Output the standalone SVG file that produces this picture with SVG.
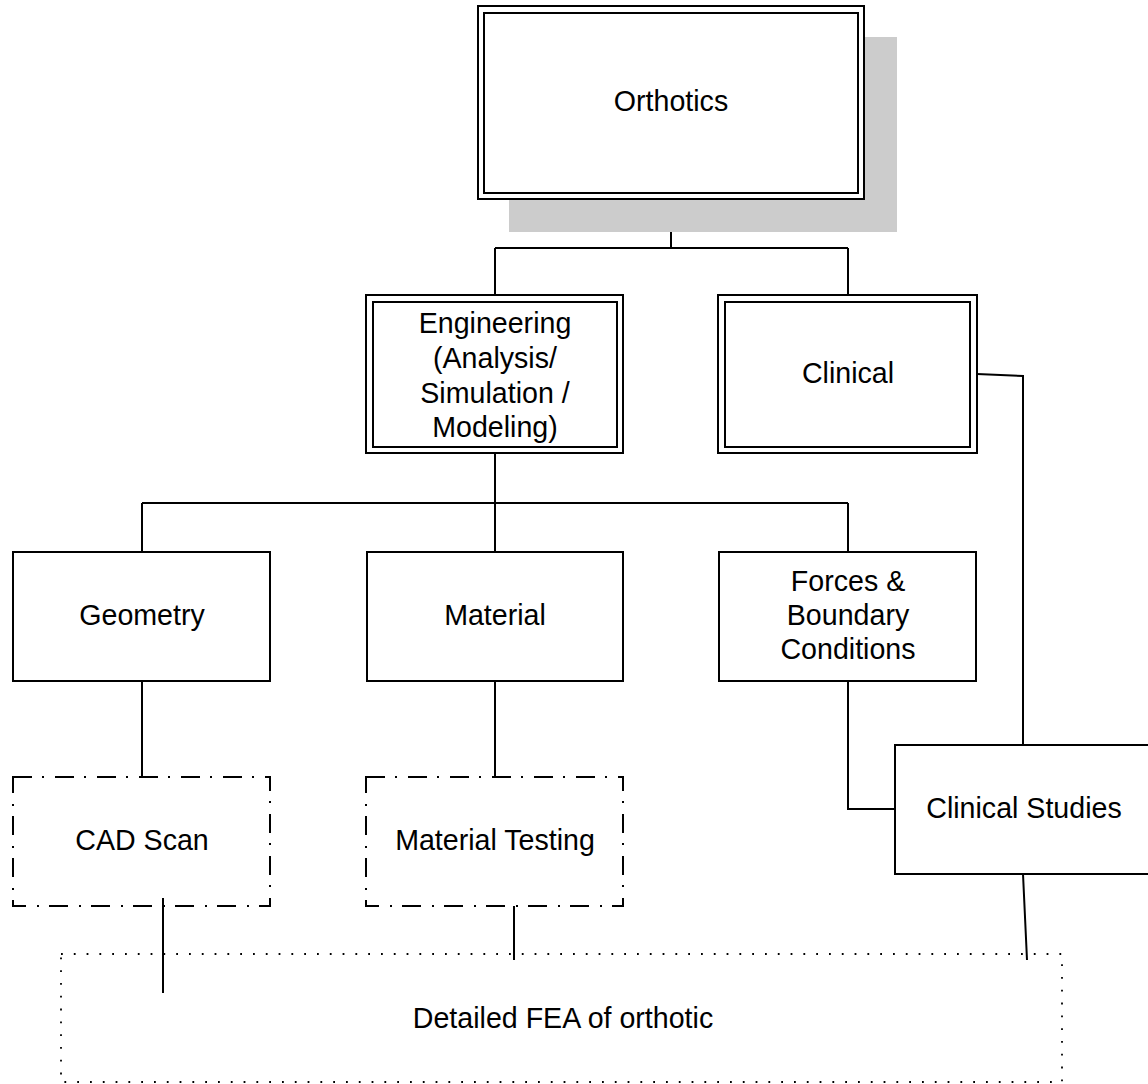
<svg xmlns="http://www.w3.org/2000/svg" width="1148" height="1084" viewBox="0 0 1148 1084">
<style>
.box{fill:#fff;stroke:#000;stroke-width:2}
.dd{fill:none;stroke:#000;stroke-width:2;stroke-dasharray:19 10 2 11}
.dot{fill:none;stroke:#000;stroke-width:1.8;stroke-dasharray:1.8 11}
.ln{fill:none;stroke:#000;stroke-width:2}
text{font-family:"Liberation Sans",Arial,sans-serif;font-size:28.6px;text-anchor:middle;fill:#000}
</style>
<rect width="1148" height="1084" fill="#fff"/>
<g id="connectors">
<path class="ln" d="M671 199V248M495 248H848M495 248V295M848 248V295"/>
<path class="ln" d="M495 453V503M142 503H848M142 503V552M495 503V552M848 503V552"/>
<path class="ln" d="M977 374L1023 376V745"/>
<path class="ln" d="M142 681V777M495 681V777"/>
<path class="ln" d="M848 681V809H895"/>
<path class="ln" d="M163 898V993M514 906V960M1023 874L1027 960"/>
</g>
<g id="orthotics">
<rect x="509" y="37" width="388" height="195" fill="#ccc"/>
<rect class="box" x="478" y="6" width="386" height="193"/>
<rect class="box" x="484" y="13" width="374" height="180"/>
<text x="671" y="111">Orthotics</text>
</g>
<g id="engineering">
<rect class="box" x="366" y="295" width="257" height="158"/>
<rect class="box" x="373" y="302" width="244" height="145"/>
<text x="495" y="333">Engineering</text>
<text x="495" y="368">(Analysis/</text>
<text x="495" y="403">Simulation /</text>
<text x="495" y="437">Modeling)</text>
</g>
<g id="clinical">
<rect class="box" x="718" y="295" width="259" height="158"/>
<rect class="box" x="725" y="302" width="245" height="145"/>
<text x="848" y="383">Clinical</text>
</g>
<g id="geometry">
<rect class="box" x="13" y="552" width="257" height="129"/>
<text x="142" y="625">Geometry</text>
</g>
<g id="material">
<rect class="box" x="367" y="552" width="256" height="129"/>
<text x="495" y="625">Material</text>
</g>
<g id="forces">
<rect class="box" x="719" y="552" width="257" height="129"/>
<text x="848" y="591">Forces &amp;</text>
<text x="848" y="625">Boundary</text>
<text x="848" y="659">Conditions</text>
</g>
<g id="cad-scan">
<rect class="dd" x="13" y="777" width="257" height="129"/>
<text x="142" y="850">CAD Scan</text>
</g>
<g id="material-testing">
<rect class="dd" x="366" y="777" width="257" height="129"/>
<text x="495" y="850">Material Testing</text>
</g>
<g id="clinical-studies">
<rect class="box" x="895" y="745" width="257" height="129"/>
<text x="1024" y="818">Clinical Studies</text>
</g>
<g id="fea">
<rect class="dot" x="61" y="954" width="1001" height="128"/>
<text x="563" y="1028">Detailed FEA of orthotic</text>
</g>
</svg>
